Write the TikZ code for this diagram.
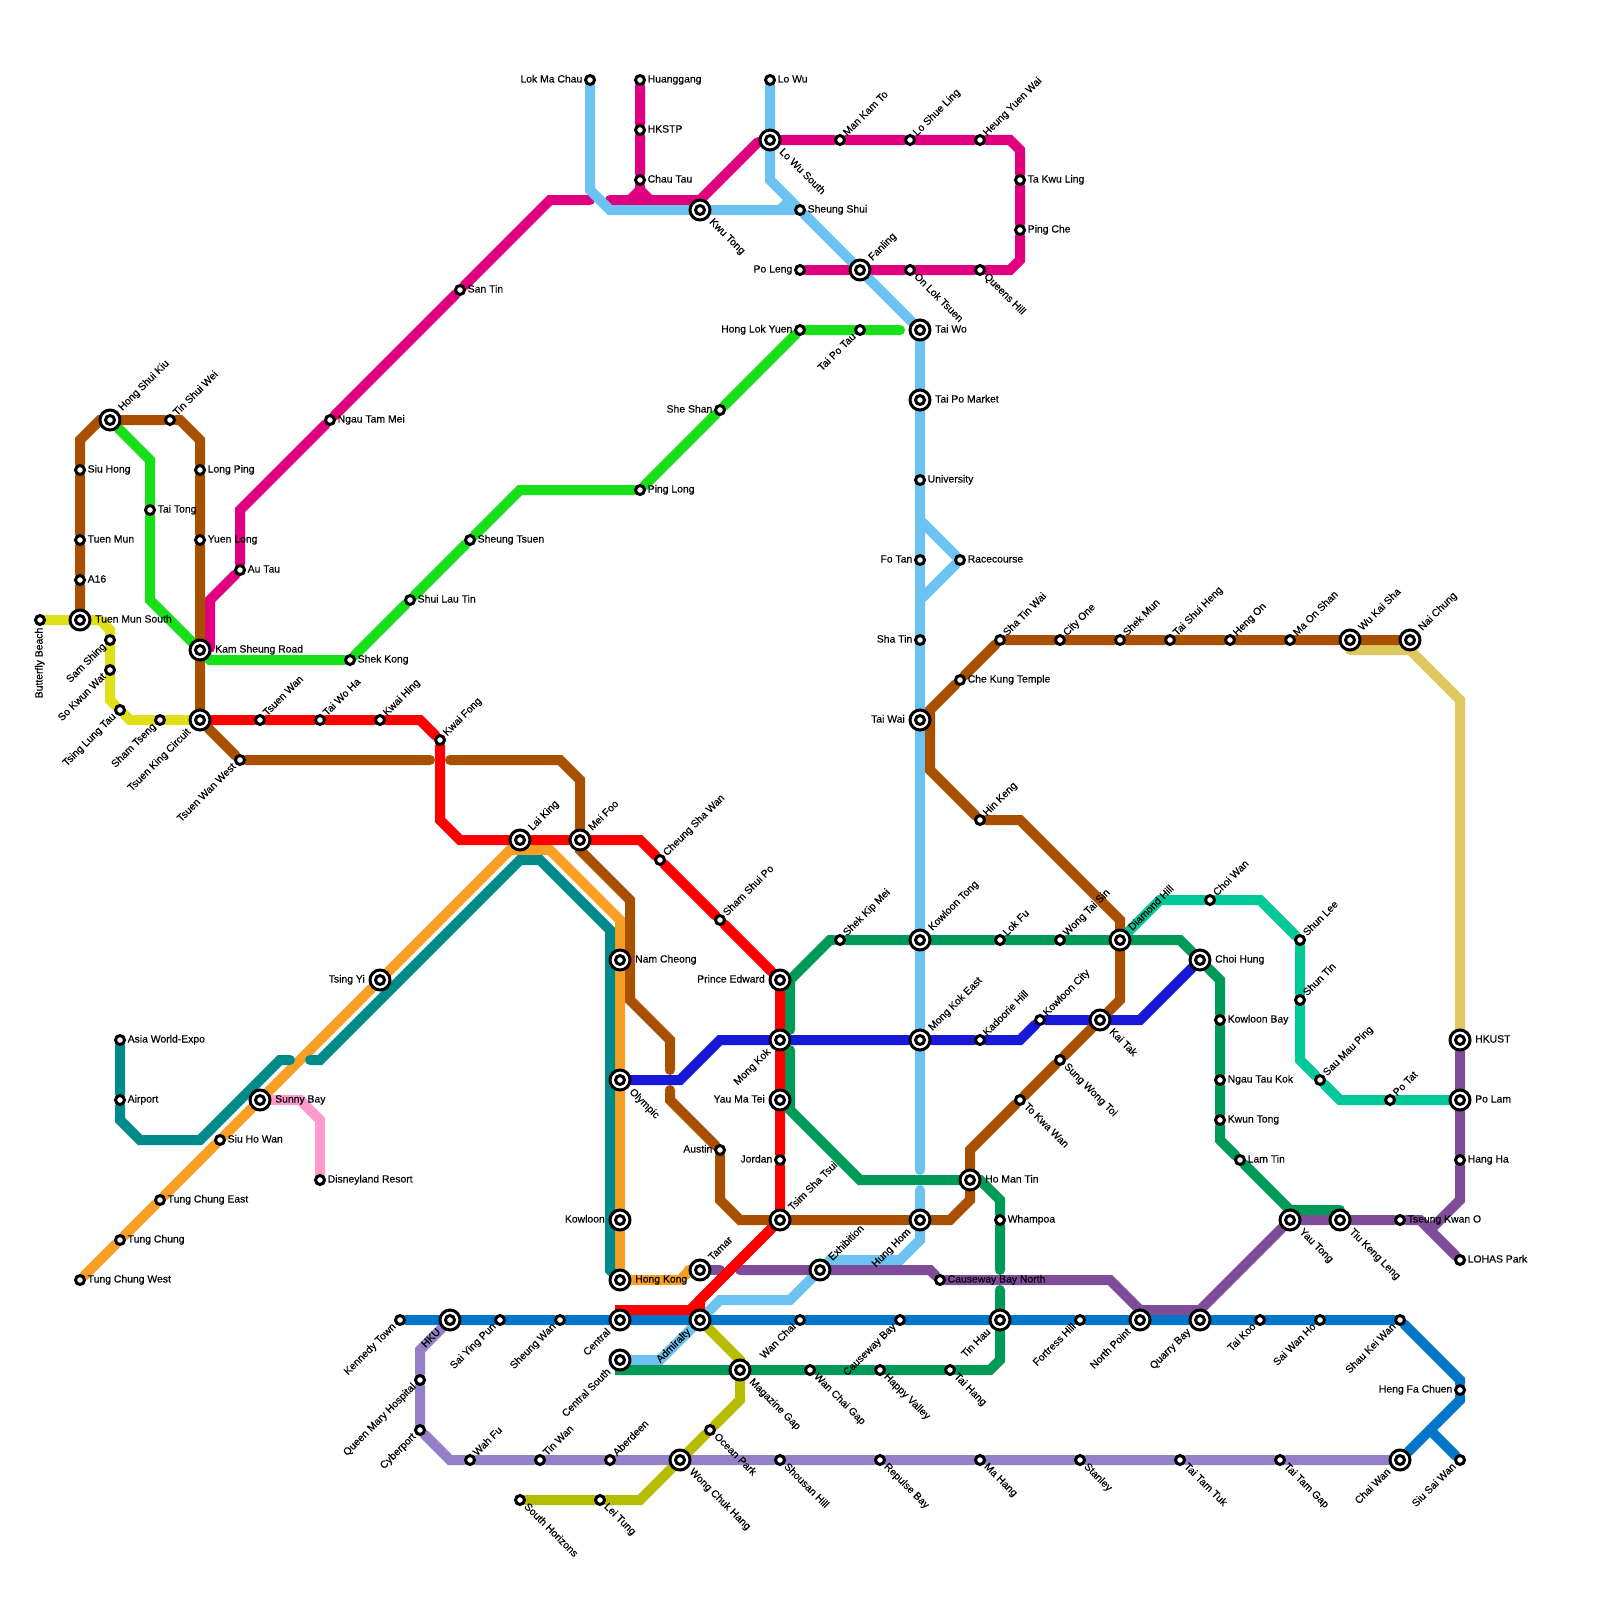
\documentclass[tikz,border=0pt]{standalone}
\usepackage{fontspec}
\newfontfamily\mapfont[FakeBold=0.3]{Liberation Sans}
\definecolor{brownline}{RGB}{168, 80, 0}
\definecolor{redline}{RGB}{255, 0, 0}
\definecolor{limeline}{RGB}{24, 224, 24}
\definecolor{magentaline}{RGB}{224, 0, 127}
\definecolor{skyline}{RGB}{108, 194, 240}
\definecolor{yellowline}{RGB}{224, 224, 24}
\definecolor{tealline}{RGB}{0, 138, 138}
\definecolor{orangeline}{RGB}{249, 160, 36}
\definecolor{blueline}{RGB}{0, 119, 200}
\definecolor{violetline}{RGB}{24, 24, 216}
\definecolor{greenline}{RGB}{0, 154, 88}
\definecolor{purpleline}{RGB}{127, 76, 154}
\definecolor{lilacline}{RGB}{149, 128, 200}
\definecolor{oliveline}{RGB}{184, 188, 0}
\definecolor{mintline}{RGB}{0, 200, 150}
\definecolor{pinkline}{RGB}{255, 154, 204}
\definecolor{goldline}{RGB}{224, 200, 96}
\usetikzlibrary{backgrounds}

\begin{document}
\begin{tikzpicture}[x=1pt, y=-1pt,
    every node/.style={font=\mapfont\fontsize{10.4pt}{12pt}\selectfont},
    stop/.style={circle, draw=black, fill=white, line width=3pt, inner sep=0pt, minimum size=9pt},
    hub/.style={circle, draw=black, fill=white, line width=3pt, inner sep=0pt, minimum size=20pt,
        path picture={\draw [black, line width=3pt, fill=white] (path picture bounding box.center) circle (4.5pt);}},
    lbl/.style={inner ysep=0pt, inner xsep=7.5pt, text height=7pt, text depth=2pt, text=black},
    wide/.style={inner xsep=15pt},
    lble/.style={lbl, anchor=west},
    lblw/.style={lbl, anchor=east},
    lblne/.style={lbl, anchor=west, rotate=45},
    lblse/.style={lbl, anchor=west, rotate=-45},
    lblsw/.style={lbl, anchor=east, rotate=45},
    lbls/.style={lbl, anchor=east, rotate=90},
    metro/.style={line width=10pt, line cap=round}]
    \useasboundingbox (0,0) rectangle (1600,1600);

    \node [stop] (butterfly) at (40,620) {}; \node [lbls] (butterflylbl) at (butterfly) {Butterfly Beach};
    \node [hub] (tuenmunsouth) at (80,620) {}; \node [lble, wide] (tuenmunsouthlbl) at (tuenmunsouth) {Tuen Mun South};
    \node [stop] (asixteen) at (80,580) {}; \node [lble] (asixteenlbl) at (asixteen) {A16};
    \node [stop] (tuenmun) at (80,540) {}; \node [lble] (tuenmunlbl) at (tuenmun) {Tuen Mun};
    \node [stop] (siuhong) at (80,470) {}; \node [lble] (siuhonglbl) at (siuhong) {Siu Hong};
    \node [hub] (hongshuikiu) at (110,420) {}; \node [lblne, wide] (hongshuikiulbl) at (hongshuikiu) {Hong Shui Kiu};
    \node [stop] (tinshuiwei) at (170,420) {}; \node [lblne] (tinshuiweilbl) at (tinshuiwei) {Tin Shui Wei};
    \node [stop] (longping) at (200,470) {}; \node [lble] (longpinglbl) at (longping) {Long Ping};
    \node [stop] (yuenlong) at (200,540) {}; \node [lble] (yuenlonglbl) at (yuenlong) {Yuen Long};
    \node [stop] (taitong) at (150,510) {}; \node [lble] (taitonglbl) at (taitong) {Tai Tong};
    \node [hub] (kamsheung) at (200,650) {}; \node [lble, wide] (kamsheunglbl) at (kamsheung) {Kam Sheung Road};
    \node [stop] (autau) at (240,570) {}; \node [lble] (autaulbl) at (autau) {Au Tau};
    \node [stop] (ngautammei) at (330,420) {}; \node [lble] (ngautammeilbl) at (ngautammei) {Ngau Tam Mei};
    \node [stop] (santin) at (460,290) {}; \node [lble] (santinlbl) at (santin) {San Tin};
    \node [stop] (shekkong) at (350,660) {}; \node [lble] (shekkonglbl) at (shekkong) {Shek Kong};
    \node [stop] (shuilautin) at (410,600) {}; \node [lble] (shuilautinlbl) at (shuilautin) {Shui Lau Tin};
    \node [stop] (sheungtsuen) at (470,540) {}; \node [lble] (sheungtsuenlbl) at (sheungtsuen) {Sheung Tsuen};
    \node [stop] (pinglong) at (640,490) {}; \node [lble] (pinglonglbl) at (pinglong) {Ping Long};
    \node [stop] (sheshan) at (720,410) {}; \node [lblw] (sheshanlbl) at (sheshan) {She Shan};
    \node [stop] (honglokyuen) at (800,330) {}; \node [lblw] (honglokyuenlbl) at (honglokyuen) {Hong Lok Yuen};
    \node [stop] (taipotau) at (860,330) {}; \node [lblsw] (taipotaulbl) at (taipotau) {Tai Po Tau};
    \node [stop] (samshing) at (110,640) {}; \node [lblsw] (samshinglbl) at (samshing) {Sam Shing};
    \node [stop] (sokwunwat) at (110,670) {}; \node [lblsw] (sokwunwatlbl) at (sokwunwat) {So Kwun Wat};
    \node [stop] (tsinglungtau) at (120,710) {}; \node [lblsw] (tsinglungtaulbl) at (tsinglungtau) {Tsing Lung Tau};
    \node [stop] (shamtseng) at (160,720) {}; \node [lblsw] (shamtsenglbl) at (shamtseng) {Sham Tseng};
    \node [hub] (tsuenking) at (200,720) {}; \node [lblsw, wide] (tsuenkinglbl) at (tsuenking) {Tsuen King Circuit};
    \node [stop] (tsuenwanwest) at (240,760) {}; \node [lblsw] (tsuenwanwestlbl) at (tsuenwanwest) {Tsuen Wan West};
    \node [stop] (tsuenwan) at (260,720) {}; \node [lblne] (tsuenwanlbl) at (tsuenwan) {Tsuen Wan};
    \node [stop] (taiwoha) at (320,720) {}; \node [lblne] (taiwohalbl) at (taiwoha) {Tai Wo Ha};
    \node [stop] (kwaihing) at (380,720) {}; \node [lblne] (kwaihinglbl) at (kwaihing) {Kwai Hing};
    \node [stop] (kwaifong) at (440,740) {}; \node [lblne] (kwaifonglbl) at (kwaifong) {Kwai Fong};
    \node [hub] (laiking) at (520,840) {}; \node [lblne, wide] (laikinglbl) at (laiking) {Lai King};
    \node [hub] (meifoo) at (580,840) {}; \node [lblne, wide] (meifoolbl) at (meifoo) {Mei Foo};
    \node [stop] (cheungshawan) at (660,860) {}; \node [lblne] (cheungshawanlbl) at (cheungshawan) {Cheung Sha Wan};
    \node [stop] (shamshuipo) at (720,920) {}; \node [lblne] (shamshuipolbl) at (shamshuipo) {Sham Shui Po};
    \node [stop] (shekkipmei) at (840,940) {}; \node [lblne] (shekkipmeilbl) at (shekkipmei) {Shek Kip Mei};
    \node [hub] (princeedward) at (780,980) {}; \node [lblw, wide] (princeedwardlbl) at (princeedward) {Prince Edward};
    \node [hub] (mongkok) at (780,1040) {}; \node [lblsw, wide] (mongkoklbl) at (mongkok) {Mong Kok};
    \node [hub] (yaumatei) at (780,1100) {}; \node [lblw, wide] (yaumateilbl) at (yaumatei) {Yau Ma Tei};
    \node [stop] (jordan) at (780,1160) {}; \node [lblw] (jordanlbl) at (jordan) {Jordan};
    \node [hub] (tsimshatsui) at (780,1220) {}; \node [lblne, wide] (tsimshatsuilbl) at (tsimshatsui) {Tsim Sha Tsui};
    \node [hub] (namcheong) at (620,960) {}; \node [lble, wide] (namcheonglbl) at (namcheong) {Nam Cheong};
    \node [hub] (olympic) at (620,1080) {}; \node [lblse, wide] (olympiclbl) at (olympic) {Olympic};
    \node [stop] (austin) at (720,1150) {}; \node [lblw] (austinlbl) at (austin) {Austin};
    \node [hub] (kowloon) at (620,1220) {}; \node [lblw, wide] (kowloonlbl) at (kowloon) {Kowloon};
    \node [hub] (hongkong) at (620,1280) {}; \node [lble, wide] (hongkonglbl) at (hongkong) {Hong Kong};
    \node [hub] (tamar) at (700,1270) {}; \node [lblne, wide] (tamarlbl) at (tamar) {Tamar};
    \node [hub] (tsingyi) at (380,980) {}; \node [lblw, wide] (tsingyilbl) at (tsingyi) {Tsing Yi};
    \node [hub] (sunnybay) at (260,1100) {}; \node [lble, wide] (sunnybaylbl) at (sunnybay) {Sunny Bay};
    \node [stop] (disneyland) at (320,1180) {}; \node [lble] (disneylandlbl) at (disneyland) {Disneyland Resort};
    \node [stop] (siuhowan) at (220,1140) {}; \node [lble] (siuhowanlbl) at (siuhowan) {Siu Ho Wan};
    \node [stop] (tungchungeast) at (160,1200) {}; \node [lble] (tungchungeastlbl) at (tungchungeast) {Tung Chung East};
    \node [stop] (tungchung) at (120,1240) {}; \node [lble] (tungchunglbl) at (tungchung) {Tung Chung};
    \node [stop] (tungchungwest) at (80,1280) {}; \node [lble] (tungchungwestlbl) at (tungchungwest) {Tung Chung West};
    \node [stop] (asiaworld) at (120,1040) {}; \node [lble] (asiaworldlbl) at (asiaworld) {Asia World-Expo};
    \node [stop] (airport) at (120,1100) {}; \node [lble] (airportlbl) at (airport) {Airport};

    \node [stop] (lokmachau) at (590,80) {}; \node [lblw] (lokmachaulbl) at (lokmachau) {Lok Ma Chau};
    \node [stop] (huanggang) at (640,80) {}; \node [lble] (huanggangl) at (huanggang) {Huanggang};
    \node [stop] (hkstp) at (640,130) {}; \node [lble] (hkstplbl) at (hkstp) {HKSTP};
    \node [stop] (chautau) at (640,180) {}; \node [lble] (chautaulbl) at (chautau) {Chau Tau};
    \node [stop] (lowu) at (770,80) {}; \node [lble] (lowulbl) at (lowu) {Lo Wu};
    \node [hub] (lowusouth) at (770,140) {}; \node [lblse, wide] (lowusouthlbl) at (lowusouth) {Lo Wu South};
    \node [stop] (mankamto) at (840,140) {}; \node [lblne] (mankamtolbl) at (mankamto) {Man Kam To};
    \node [stop] (loshueling) at (910,140) {}; \node [lblne] (loshuelinglbl) at (loshueling) {Lo Shue Ling};
    \node [stop] (heungyuenwai) at (980,140) {}; \node [lblne] (heungyuenwailbl) at (heungyuenwai) {Heung Yuen Wai};
    \node [stop] (takwuling) at (1020,180) {}; \node [lble] (takwulinglbl) at (takwuling) {Ta Kwu Ling};
    \node [stop] (pingche) at (1020,230) {}; \node [lble] (pingchelbl) at (pingche) {Ping Che};
    \node [stop] (queenshill) at (980,270) {}; \node [lblse] (queenshilllbl) at (queenshill) {Queens Hill};
    \node [stop] (onloktsuen) at (910,270) {}; \node [lblse] (onloktsuenlbl) at (onloktsuen) {On Lok Tsuen};
    \node [hub] (fanling) at (860,270) {}; \node [lblne, wide] (fanlinglbl) at (fanling) {Fanling};
    \node [stop] (poleng) at (800,270) {}; \node [lblw] (polenglbl) at (poleng) {Po Leng};
    \node [stop] (sheungshui) at (800,210) {}; \node [lble] (sheungshuilbl) at (sheungshui) {Sheung Shui};
    \node [hub] (kwutong) at (700,210) {}; \node [lblse, wide] (kwutonglbl) at (kwutong) {Kwu Tong};
    \node [hub] (taiwo) at (920,330) {}; \node [lble, wide] (taiwolbl) at (taiwo) {Tai Wo};
    \node [hub] (taipomarket) at (920,400) {}; \node [lble, wide] (taipomarketlbl) at (taipomarket) {Tai Po Market};
    \node [stop] (university) at (920,480) {}; \node [lble] (universitylbl) at (university) {University};
    \node [stop] (fotan) at (920,560) {}; \node [lblw] (fotanlbl) at (fotan) {Fo Tan};
    \node [stop] (racecourse) at (960,560) {}; \node [lble] (racecourselbl) at (racecourse) {Racecourse};
    \node [stop] (shatin) at (920,640) {}; \node [lblw] (shatinlbl) at (shatin) {Sha Tin};
    \node [hub] (taiwai) at (920,720) {}; \node [lblw, wide] (taiwailbl) at (taiwai) {Tai Wai};
    \node [hub] (kowloontong) at (920,940) {}; \node [lblne, wide] (kowloontonglbl) at (kowloontong) {Kowloon Tong};
    \node [hub] (mongkokeast) at (920,1040) {}; \node [lblne, wide] (mongkokeastlbl) at (mongkokeast) {Mong Kok East};
    \node [hub] (hunghom) at (920,1220) {}; \node [lblsw, wide] (hunghomlbl) at (hunghom) {Hung Hom};
    \node [hub] (exhibition) at (820,1270) {}; \node [lblne, wide] (exhibitionlbl) at (exhibition) {Exhibition};

    \node [stop] (chekung) at (960,680) {}; \node [lble] (chekunglbl) at (chekung) {Che Kung Temple};
    \node [stop] (shatinwai) at (1000,640) {}; \node [lblne] (shatinwailbl) at (shatinwai) {Sha Tin Wai};
    \node [stop] (cityone) at (1060,640) {}; \node [lblne] (cityonelbl) at (cityone) {City One};
    \node [stop] (shekmun) at (1120,640) {}; \node [lblne] (shekmunlbl) at (shekmun) {Shek Mun};
    \node [stop] (taishuiheng) at (1170,640) {}; \node [lblne] (taishuihenglbl) at (taishuiheng) {Tai Shui Heng};
    \node [stop] (hengon) at (1230,640) {}; \node [lblne] (hengonlbl) at (hengon) {Heng On};
    \node [stop] (maonshan) at (1290,640) {}; \node [lblne] (maonshanlbl) at (maonshan) {Ma On Shan};
    \node [hub] (wukaisha) at (1350,640) {}; \node [lblne, wide] (wukaishalbl) at (wukaisha) {Wu Kai Sha};
    \node [hub] (naichung) at (1410,640) {}; \node [lblne, wide] (naichunglbl) at (naichung) {Nai Chung};
    \node [stop] (hinkeng) at (980,820) {}; \node [lblne] (hinkenglbl) at (hinkeng) {Hin Keng};
    \node [stop] (lokfu) at (1000,940) {}; \node [lblne] (lokfulbl) at (lokfu) {Lok Fu};
    \node [stop] (wongtaisin) at (1060,940) {}; \node [lblne] (wongtaisinlbl) at (wongtaisin) {Wong Tai Sin};
    \node [hub] (diamondhill) at (1120,940) {}; \node [lblne, wide] (diamondhilllbl) at (diamondhill) {Diamond Hill};
    \node [stop] (choiwan) at (1210,900) {}; \node [lblne] (choiwanlbl) at (choiwan) {Choi Wan};
    \node [hub] (choihung) at (1200,960) {}; \node [lble, wide] (choihunglbl) at (choihung) {Choi Hung};
    \node [stop] (shunlee) at (1300,940) {}; \node [lblne] (shunleelbl) at (shunlee) {Shun Lee};
    \node [stop] (shuntin) at (1300,1000) {}; \node [lblne] (shuntinlbl) at (shuntin) {Shun Tin};
    \node [stop] (saumauping) at (1320,1080) {}; \node [lblne] (saumaupinglbl) at (saumauping) {Sau Mau Ping};
    \node [stop] (potat) at (1390,1100) {}; \node [lblne] (potatlbl) at (potat) {Po Tat};
    \node [hub] (hkust) at (1460,1040) {}; \node [lble, wide] (hkustlbl) at (hkust) {HKUST};
    \node [hub] (polam) at (1460,1100) {}; \node [lble, wide] (polamlbl) at (polam) {Po Lam};
    \node [stop] (hangha) at (1460,1160) {}; \node [lble] (hanghalbl) at (hangha) {Hang Ha};
    \node [stop] (tseungkwano) at (1400,1220) {}; \node [lble] (tseungkwanolbl) at (tseungkwano) {Tseung Kwan O};
    \node [stop] (lohas) at (1460,1260) {}; \node [lble] (lohaslbl) at (lohas) {LOHAS Park};
    \node [hub] (tiukengleng) at (1340,1220) {}; \node [lblse, wide] (tiukenglenglbl) at (tiukengleng) {Tiu Keng Leng};
    \node [hub] (yautong) at (1290,1220) {}; \node [lblse, wide] (yautonglbl) at (yautong) {Yau Tong};
    \node [stop] (lamtin) at (1240,1160) {}; \node [lble] (lamtinlbl) at (lamtin) {Lam Tin};
    \node [stop] (kwuntong) at (1220,1120) {}; \node [lble] (kwuntonglbl) at (kwuntong) {Kwun Tong};
    \node [stop] (ngautaukok) at (1220,1080) {}; \node [lble] (ngautaukoklbl) at (ngautaukok) {Ngau Tau Kok};
    \node [stop] (kowloonbay) at (1220,1020) {}; \node [lble] (kowloonbaylbl) at (kowloonbay) {Kowloon Bay};
    \node [hub] (kaitak) at (1100,1020) {}; \node [lblse, wide] (kaitaklbl) at (kaitak) {Kai Tak};
    \node [stop] (kowlooncity) at (1040,1020) {}; \node [lblne] (kowlooncitylbl) at (kowlooncity) {Kowloon City};
    \node [stop] (kadoorie) at (980,1040) {}; \node [lblne] (kadoorielbl) at (kadoorie) {Kadoorie Hill};
    \node [stop] (sungwongtoi) at (1060,1060) {}; \node [lblse] (sungwongtoilbl) at (sungwongtoi) {Sung Wong Toi};
    \node [stop] (tokwawan) at (1020,1100) {}; \node [lblse] (tokwawanlbl) at (tokwawan) {To Kwa Wan};
    \node [hub] (homantin) at (970,1180) {}; \node [lble, wide] (homantinlbl) at (homantin) {Ho Man Tin};
    \node [stop] (whampoa) at (1000,1220) {}; \node [lble] (whampoalbl) at (whampoa) {Whampoa};
    \node [stop] (causewaynorth) at (940,1280) {}; \node [lble] (causewaynorthlbl) at (causewaynorth) {Causeway Bay North};

    \node [stop] (kennedy) at (400,1320) {}; \node [lblsw] (kennedylbl) at (kennedy) {Kennedy Town};
    \node [hub] (hku) at (450,1320) {}; \node [lblsw, wide] (hkulbl) at (hku) {HKU};
    \node [stop] (saiyingpun) at (500,1320) {}; \node [lblsw] (saiyingpunlbl) at (saiyingpun) {Sai Ying Pun};
    \node [stop] (sheungwan) at (560,1320) {}; \node [lblsw] (sheungwanlbl) at (sheungwan) {Sheung Wan};
    \node [hub] (central) at (620,1320) {}; \node [lblsw, wide] (centrallbl) at (central) {Central};
    \node [hub] (admiralty) at (700,1320) {}; \node [lblsw, wide] (admiraltylbl) at (admiralty) {Admiralty};
    \node [stop] (wanchai) at (800,1320) {}; \node [lblsw] (wanchailbl) at (wanchai) {Wan Chai};
    \node [stop] (causeway) at (900,1320) {}; \node [lblsw] (causewaylbl) at (causeway) {Causeway Bay};
    \node [hub] (tinhau) at (1000,1320) {}; \node [lblsw, wide] (tinhaulbl) at (tinhau) {Tin Hau};
    \node [stop] (fortress) at (1080,1320) {}; \node [lblsw] (fortresslbl) at (fortress) {Fortress Hill};
    \node [hub] (northpoint) at (1140,1320) {}; \node [lblsw, wide] (northpointlbl) at (northpoint) {North Point};
    \node [hub] (quarrybay) at (1200,1320) {}; \node [lblsw, wide] (quarrybaylbl) at (quarrybay) {Quarry Bay};
    \node [stop] (taikoo) at (1260,1320) {}; \node [lblsw] (taikoolbl) at (taikoo) {Tai Koo};
    \node [stop] (saiwanho) at (1320,1320) {}; \node [lblsw] (saiwanholbl) at (saiwanho) {Sai Wan Ho};
    \node [stop] (shaukeiwan) at (1400,1320) {}; \node [lblsw] (shaukeiwanlbl) at (shaukeiwan) {Shau Kei Wan};
    \node [stop] (hengfachuen) at (1460,1390) {}; \node [lblw] (hengfachuenlbl) at (hengfachuen) {Heng Fa Chuen};
    \node [hub] (chaiwan) at (1400,1460) {}; \node [lblsw, wide] (chaiwanlbl) at (chaiwan) {Chai Wan};
    \node [stop] (siusaiwan) at (1460,1460) {}; \node [lblsw] (siusaiwanlbl) at (siusaiwan) {Siu Sai Wan};
    \node [hub] (centralsouth) at (620,1360) {}; \node [lblsw, wide] (centralsouthlbl) at (centralsouth) {Central South};
    \node [hub] (magazinegap) at (740,1370) {}; \node [lblse, wide] (magazinegaplbl) at (magazinegap) {Magazine Gap};
    \node [stop] (wanchaigap) at (810,1370) {}; \node [lblse] (wanchaigaplbl) at (wanchaigap) {Wan Chai Gap};
    \node [stop] (happyvalley) at (880,1370) {}; \node [lblse] (happyvalleylbl) at (happyvalley) {Happy Valley};
    \node [stop] (taihang) at (950,1370) {}; \node [lblse] (taihanglbl) at (taihang) {Tai Hang};
    \node [stop] (queenmary) at (420,1380) {}; \node [lblsw] (queenmarylbl) at (queenmary) {Queen Mary Hospital};
    \node [stop] (cyberport) at (420,1430) {}; \node [lblsw] (cyberportlbl) at (cyberport) {Cyberport};
    \node [stop] (wahfu) at (470,1460) {}; \node [lblne] (wahfulbl) at (wahfu) {Wah Fu};
    \node [stop] (tinwan) at (540,1460) {}; \node [lblne] (tinwanlbl) at (tinwan) {Tin Wan};
    \node [stop] (aberdeen) at (610,1460) {}; \node [lblne] (aberdeenlbl) at (aberdeen) {Aberdeen};
    \node [hub] (wongchukhang) at (680,1460) {}; \node [lblse, wide] (wongchukhanglbl) at (wongchukhang) {Wong Chuk Hang};
    \node [stop] (oceanpark) at (710,1430) {}; \node [lblse] (oceanparklbl) at (oceanpark) {Ocean Park};
    \node [stop] (shousanhill) at (780,1460) {}; \node [lblse] (shousanhilllbl) at (shousanhill) {Shousan Hill};
    \node [stop] (repulsebay) at (880,1460) {}; \node [lblse] (repulsebaylbl) at (repulsebay) {Repulse Bay};
    \node [stop] (mahang) at (980,1460) {}; \node [lblse] (mahanglbl) at (mahang) {Ma Hang};
    \node [stop] (stanley) at (1080,1460) {}; \node [lblse] (stanleylbl) at (stanley) {Stanley};
    \node [stop] (taitamtuk) at (1180,1460) {}; \node [lblse] (taitamtuklbl) at (taitamtuk) {Tai Tam Tuk};
    \node [stop] (taitamgap) at (1280,1460) {}; \node [lblse] (taitamgaplbl) at (taitamgap) {Tai Tam Gap};
    \node [stop] (southhorizons) at (520,1500) {}; \node [lblse] (southhorizonslbl) at (southhorizons) {South Horizons};
    \node [stop] (leitung) at (600,1500) {}; \node [lblse] (leitunglbl) at (leitung) {Lei Tung};

    \coordinate (brownendA) at (430,760);
    \coordinate (brownendB) at (450,760);
    \coordinate (brownendC) at (670,1070);
    \coordinate (brownendD) at (670,1090);
    \coordinate (tealendA) at (290,1060);
    \coordinate (tealendB) at (310,1060);
    \coordinate (magentaendA) at (590,200);
    \coordinate (magentaendB) at (610,200);
    \coordinate (magentaendC) at (758,142);
    \coordinate (magentafork) at (640,190);
    \coordinate (kammagenta) at (210,648);
    \coordinate (limeend) at (900,330);
    \coordinate (skyendA) at (920,1170);
    \coordinate (skyendB) at (920,1190);
    \coordinate (skyfork) at (790,200);
    \coordinate (skyjoin) at (780,210);
    \coordinate (loopin) at (920,520);
    \coordinate (loopout) at (920,600);
    \coordinate (purpleendA) at (720,1270);
    \coordinate (purpleendB) at (740,1270);
    \coordinate (purplefork) at (1430,1230);
    \coordinate (greenendA) at (790,1030);
    \coordinate (greenendB) at (790,1050);
    \coordinate (greenendC) at (1000,1270);
    \coordinate (greenendD) at (1000,1290);
    \coordinate (greentiu) at (1340,1210);
    \coordinate (goldend) at (1350,650);
    \coordinate (bluefork) at (1430,1430);

    \begin{scope}[on background layer]
        \draw [metro, goldline] (goldend) -- (1410,650) -- (1460,700) -- (hkust);
        \draw [metro, yellowline] (butterfly) -- (tuenmunsouth) -- (100,620) -- (110,630) -- (samshing) -- (sokwunwat) -- (110,700) -- (tsinglungtau) -- (130,720) -- (shamtseng) -- (tsuenking);
        \draw [metro, orangeline] (tungchungwest) -- (tungchung) -- (tungchungeast) -- (siuhowan) -- (sunnybay) -- (tsingyi) -- (510,850) -- (550,850) -- (620,920) -- (namcheong) -- (olympic) -- (kowloon) -- (hongkong) -- (680,1280) -- (690,1270) -- (tamar);
        \draw [metro, tealline] (asiaworld) -- (airport) -- (120,1120) -- (140,1140) -- (200,1140) -- (280,1060) -- (tealendA);
        \draw [metro, tealline] (tealendB) -- (320,1060) -- (520,860) -- (540,860) -- (610,930) -- (610,1270) -- (hongkong);
        \draw [metro, pinkline] (sunnybay) -- (300,1100) -- (320,1120) -- (disneyland);
        \draw [metro, limeline] (hongshuikiu) -- (150,460) -- (taitong) -- (150,600) -- (kamsheung);
        \draw [metro, limeline] (kamsheung) -- (210,660) -- (shekkong) -- (shuilautin) -- (sheungtsuen) -- (520,490) -- (pinglong) -- (sheshan) -- (honglokyuen) -- (taipotau) -- (limeend);
        \draw [metro, magentaline] (kammagenta) -- (210,600) -- (autau) -- (240,510) -- (ngautammei) -- (santin) -- (550,200) -- (magentaendA);
        \draw [metro, magentaline] (magentaendB) -- (700,200) -- (magentaendC);
        \draw [metro, magentaline] (lowusouth) -- (mankamto) -- (loshueling) -- (heungyuenwai) -- (1010,140) -- (1020,150) -- (takwuling) -- (pingche) -- (1020,260) -- (1010,270) -- (queenshill) -- (onloktsuen) -- (fanling) -- (poleng);
        \draw [metro, magentaline] (huanggang) -- (hkstp) -- (chautau) -- (magentafork) -- (630,200);
        \draw [metro, magentaline] (magentafork) -- (650,200);
        \draw [metro, skyline] (lokmachau) -- (590,190) -- (610,210) -- (kwutong) -- (sheungshui);
        \draw [metro, skyline] (skyjoin) -- (skyfork);
        \draw [metro, skyline] (lowu) -- (lowusouth) -- (770,180) -- (skyfork) -- (sheungshui) -- (fanling) -- (taiwo) -- (taipomarket) -- (university) -- (loopin) -- (fotan) -- (loopout) -- (shatin) -- (taiwai) -- (kowloontong) -- (mongkokeast) -- (skyendA);
        \draw [metro, skyline] (loopin) -- (racecourse) -- (loopout);
        \draw [metro, skyline] (skyendB) -- (hunghom) -- (920,1240) -- (900,1260) -- (830,1260) -- (exhibition) -- (790,1300) -- (720,1300) -- (admiralty) -- (660,1360) -- (centralsouth);
        \draw [metro, violetline] (olympic) -- (680,1080) -- (720,1040) -- (mongkok) -- (mongkokeast) -- (kadoorie) -- (1020,1040) -- (kowlooncity) -- (kaitak) -- (1140,1020) -- (choihung);
        \draw [metro, oliveline] (admiralty) -- (740,1360) -- (740,1400) -- (oceanpark) -- (wongchukhang) -- (640,1500) -- (leitung) -- (southhorizons);
        \draw [metro, lilacline] (hku) -- (420,1350) -- (queenmary) -- (cyberport) -- (450,1460) -- (wahfu) -- (tinwan) -- (aberdeen) -- (wongchukhang) -- (shousanhill) -- (repulsebay) -- (mahang) -- (stanley) -- (taitamtuk) -- (taitamgap) -- (chaiwan);
        \draw [metro, blueline] (kennedy) -- (hku) -- (saiyingpun) -- (sheungwan) -- (central) -- (admiralty) -- (wanchai) -- (causeway) -- (tinhau) -- (fortress) -- (northpoint) -- (quarrybay) -- (taikoo) -- (saiwanho) -- (shaukeiwan) -- (1460,1380) -- (hengfachuen) -- (1460,1400) -- (bluefork) -- (chaiwan);
        \draw [metro, blueline] (bluefork) -- (siusaiwan);
        \draw [metro, greenline] (greentiu) -- (1290,1210) -- (lamtin) -- (1220,1140) -- (kwuntong) -- (ngautaukok) -- (kowloonbay) -- (1220,980) -- (choihung) -- (1180,940) -- (diamondhill) -- (wongtaisin) -- (lokfu) -- (kowloontong) -- (shekkipmei) -- (830,940) -- (790,980) -- (greenendA);
        \draw [metro, greenline] (greenendB) -- (790,1110) -- (860,1180) -- (homantin.center) -- (980,1180) -- (1000,1200) -- (whampoa) -- (greenendC);
        \draw [metro, greenline] (greenendD) -- (tinhau) -- (1000,1360) -- (990,1370) -- (taihang) -- (happyvalley) -- (wanchaigap) -- (magazinegap) -- (620,1370) -- (centralsouth.center);
        \draw [metro, mintline] (diamondhill) -- (1160,900) -- (choiwan) -- (1260,900) -- (shunlee) -- (shuntin) -- (1300,1060) -- (saumauping) -- (1340,1100) -- (potat) -- (polam);
        \draw [metro, purpleline] (hkust) -- (polam) -- (hangha) -- (1460,1200) -- (purplefork);
        \draw [metro, purpleline] (lohas) -- (1420,1220) -- (tseungkwano) -- (tiukengleng) -- (yautong) -- (1200,1310) -- (1140,1310) -- (1110,1280) -- (causewaynorth) -- (930,1270) -- (exhibition) -- (purpleendB);
        \draw [metro, purpleline] (tamar) -- (purpleendA);
        \draw [metro, brownline] (tuenmunsouth) -- (asixteen) -- (tuenmun) -- (siuhong) -- (80,440) -- (100,420) -- (tinshuiwei) -- (180,420) -- (200,440) -- (longping) -- (yuenlong) -- (kamsheung) -- (tsuenking) -- (tsuenwanwest) -- (brownendA);
        \draw [metro, brownline] (brownendB) -- (560,760) -- (580,780) -- (meifoo.center) -- (580,850) -- (630,900) -- (630,1000) -- (670,1040) -- (brownendC);
        \draw [metro, brownline] (brownendD) -- (670,1100) -- (austin) -- (720,1200) -- (740,1220) -- (tsimshatsui) -- (hunghom) -- (950,1220) -- (970,1200) -- (homantin) -- (970,1150) -- (tokwawan) -- (sungwongtoi) -- (kaitak) -- (1120,1000) -- (diamondhill) -- (1120,920) -- (1020,820) -- (hinkeng) -- (930,770) -- (930,710) -- (chekung) -- (shatinwai) -- (cityone) -- (shekmun) -- (taishuiheng) -- (hengon) -- (maonshan) -- (wukaisha) -- (naichung);
        \draw [metro, redline] (tsuenking) -- (tsuenwan) -- (taiwoha) -- (kwaihing) -- (420,720) -- (kwaifong) -- (440,820) -- (460,840) -- (laiking) -- (meifoo) -- (640,840) -- (cheungshawan) -- (shamshuipo) -- (princeedward) -- (mongkok) -- (yaumatei) -- (jordan) -- (tsimshatsui) -- (690,1310) -- (620,1310) -- (central.center);
        \draw [metro, redline] (tsimshatsui) -- (700,1300) -- (admiralty);
    \end{scope}
\end{tikzpicture}
\end{document}
